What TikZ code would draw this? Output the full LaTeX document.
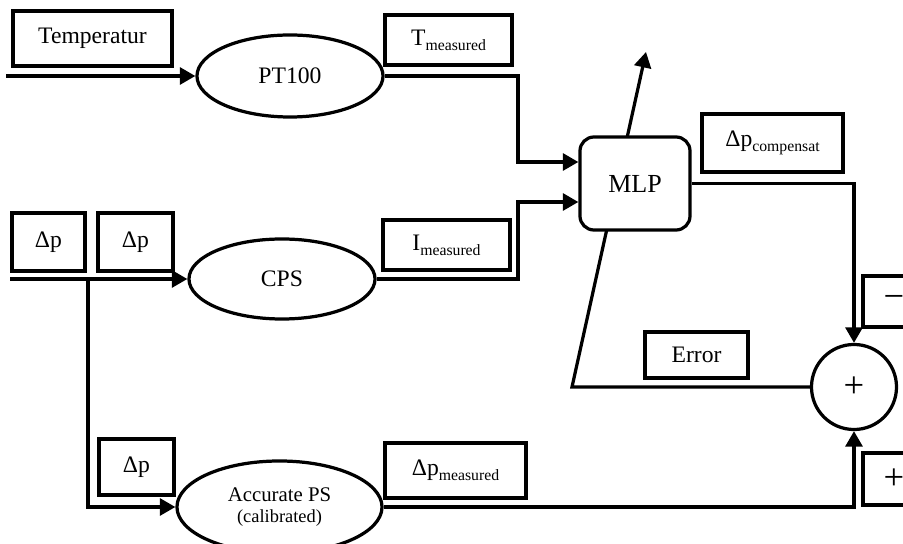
\documentclass[tikz,border=0pt]{standalone}
\usepackage{fontspec}
\setmainfont{Liberation Serif}
\usetikzlibrary{arrows.meta,shapes.geometric,backgrounds}
\newcommand\lowsub[1]{\raisebox{-3.5pt}{\fontsize{11.2}{12}\selectfont #1}}

\begin{document}
\begin{tikzpicture}[x=0.025cm,y=-0.025cm,>={Triangle[length=11pt,width=12pt]},
        font=\fontsize{16.8}{19}\selectfont,
        box/.style={draw,line width=2.8pt,inner sep=0pt},
        block/.style={draw,ellipse,line width=2.3pt,inner sep=0pt,fill=white},
        sig/.style={line width=2.3pt}]
                \useasboundingbox (0,0) rectangle (903,544);

                \node[box,minimum width=3.975cm,minimum height=1.375cm]   (temp)   at (92.5,38.5)  {Temperatur};
                \node[block,minimum width=4.65cm,minimum height=2.05cm]   (pt100)  at (290,76)     {PT100};
                \node[box,minimum width=3.175cm,minimum height=1.25cm]    (tmeas)  at (448.5,40)   {T\lowsub{measured}};
                \node[draw,rounded corners=0.35cm,line width=2.3pt,fill=white,
                      minimum width=2.75cm,minimum height=2.325cm,
                      font=\fontsize{18.5}{20}\selectfont]                (mlp)    at (635,183.5)  {MLP};
                \node[box,minimum width=3.525cm,minimum height=1.45cm]    (dpcomp) at (772.5,143)  {Δp\lowsub{compensat}};
                \node[box,minimum width=1.825cm,minimum height=1.45cm]    (dp1)    at (48.5,242)   {Δp};
                \node[box,minimum width=1.875cm,minimum height=1.45cm]    (dp2)    at (135.5,242)  {Δp};
                \node[block,minimum width=4.65cm,minimum height=2cm]      (cps)    at (282,279)    {CPS};
                \node[box,minimum width=3.175cm,minimum height=1.25cm]    (imeas)  at (446.5,245)  {I\lowsub{measured}};
                \node[box,minimum width=2.575cm,minimum height=1.15cm]    (error)  at (696.5,355)  {Error};
                \node[draw,circle,line width=2.3pt,fill=white,inner sep=0pt,
                      minimum size=2.125cm]                               (sum)    at (854,387)    {\fontsize{26}{28}\selectfont +};
                \node[box,minimum width=1.55cm,minimum height=1.275cm]    (minus)  at (894,301.5)  {\fontsize{26}{28}\selectfont −};
                \node[box,minimum width=1.55cm,minimum height=1.3cm]      (plus)   at (894,479)    {\fontsize{26}{28}\selectfont +};
                \node[box,minimum width=1.875cm,minimum height=1.4cm]     (dp3)    at (136.5,467)  {Δp};
                \node[box,minimum width=3.525cm,minimum height=1.375cm]   (dpmeas) at (455.5,470.5){Δp\lowsub{measured}};
                \node[block,minimum width=5.125cm,minimum height=2.3cm,align=center,
                      font=\fontsize{14.8}{15}\selectfont]                (accps)  at (279.5,507)
                      {Accurate PS\\\fontsize{13.1}{15}\selectfont (calibrated)};

                \coordinate (tin)    at (6,76);
                \coordinate (tk)     at (518,162);
                \coordinate (ik)     at (518,202);
                \coordinate (pin)    at (10,279);
                \coordinate (split)  at (88,279);
                \coordinate (errc)   at (572,387);
                \coordinate (mlpout) at (646,52);

                \draw[->,sig] (tin) -- (pt100);
                \draw[->,sig] (pt100.east) -| (tk) -- (tk -| mlp.west);
                \draw[->,sig] (pin) -- (cps);
                \draw[->,sig] (split) |- (accps.west);
                \draw[->,sig] (cps.east) -| (ik) -- (ik -| mlp.west);
                \draw[->,sig] (mlp.east) -| (sum.north);
                \draw[->,sig] (accps.east) -| (sum.south);
                \begin{scope}[on background layer]
                    \draw[->,sig] (sum.west) -- (errc) -- (mlpout);
                \end{scope}
\end{tikzpicture}
\end{document}
